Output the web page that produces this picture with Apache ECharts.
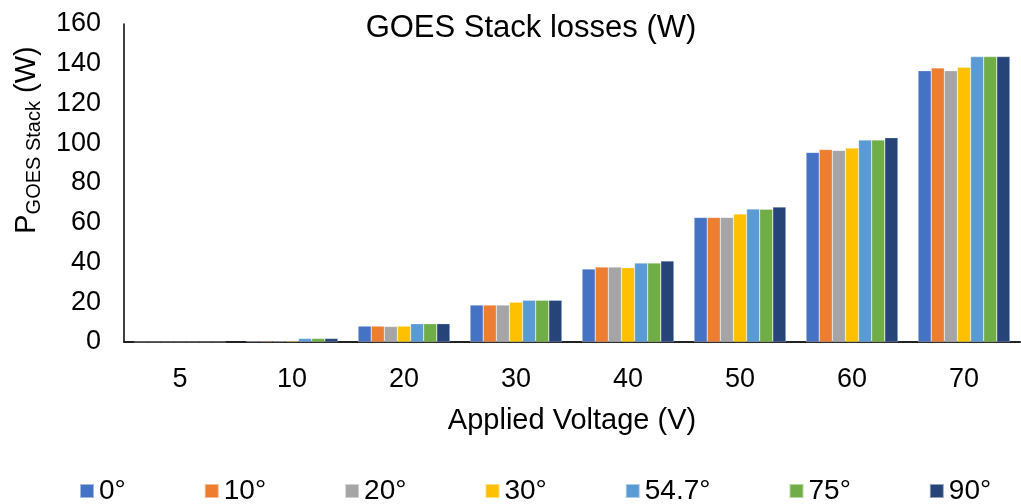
<!DOCTYPE html>
<html><head><meta charset="utf-8">
<script src="https://cdn.jsdelivr.net/npm/echarts@6/dist/echarts.min.js"></script>
<style>html,body{margin:0;padding:0;background:#fff}#c{width:1021px;height:504px}</style>
</head><body><div id="c"></div>
<script>
const categories = ['5','10','20','30','40','50','60','70'];
const seriesNames = ['0°','10°','20°','30°','54.7°','75°','90°'];
const s0   = [0.1, 0.4, 8.0, 18.6, 36.7, 62.7, 95.4, 136.5];
const s10  = [0.1, 0.4, 8.0, 18.6, 37.7, 62.7, 96.8, 137.9];
const s20  = [0.1, 0.4, 7.8, 18.6, 37.7, 62.7, 96.4, 136.5];
const s30  = [0.1, 0.5, 8.0, 20.0, 37.4, 64.4, 97.6, 138.2];
const s547 = [0.1, 1.8, 9.2, 21.0, 39.7, 66.9, 101.6, 143.6];
const s75  = [0.1, 1.8, 9.2, 21.0, 39.7, 66.8, 101.6, 143.6];
const s90  = [0.1, 1.8, 9.2, 21.0, 40.8, 67.9, 102.8, 143.6];
const yTicks = [0, 20, 40, 60, 80, 100, 120, 140, 160];
const colors = ['#4472C4','#ED7D31','#A5A5A5','#FFC000','#5B9BD5','#70AD47','#264478'];
const allData = [s0, s10, s20, s30, s547, s75, s90];

const font = 'Liberation Sans, Arial, sans-serif';
const chart = echarts.init(document.getElementById('c'));
chart.setOption({
  animation: false,
  color: colors,
  textStyle: {fontFamily: font},
  title: {
    text: 'GOES Stack losses (W)', left: 526, top: 8, textAlign: 'center',
    textStyle: {fontFamily: font, fontSize: 31, fontWeight: 'normal', color: '#000'}
  },
  grid: {left: 124, right: 1, top: 24, bottom: 162, containLabel: false},
  legend: {
    left: 74, top: 472, itemGap: 78, itemWidth: 14, itemHeight: 14, icon: 'rect',
    data: seriesNames,
    textStyle: {fontFamily: font, fontSize: 28, color: '#000'}
  },
  xAxis: {
    type: 'category', data: categories,
    axisLine: {lineStyle: {color: '#222', width: 2}},
    axisTick: {show: false},
    axisLabel: {fontFamily: font, fontSize: 27, color: '#000', margin: 24},
    name: 'Applied Voltage (V)', nameLocation: 'middle', nameGap: 64,
    nameTextStyle: {fontFamily: font, fontSize: 29, color: '#000'}
  },
  yAxis: {
    type: 'value', min: 0, max: 160, interval: 20,
    axisLine: {show: true, lineStyle: {color: '#000', width: 1.5}},
    axisTick: {show: false},
    splitLine: {show: false},
    axisLabel: {fontFamily: font, fontSize: 27, color: '#000', margin: 23,
      formatter: v => yTicks.includes(v) ? String(v) : ''}
  },
  graphic: [{
    type: 'text', x: 27, y: 140, rotation: Math.PI / 2,
    style: {
      text: '{a|P}{b|GOES Stack}{a| (W)}',
      align: 'center', verticalAlign: 'middle',
      rich: {
        a: {fontFamily: font, fontSize: 29, color: '#000', lineHeight: 34, verticalAlign: 'middle'},
        b: {fontFamily: font, fontSize: 20, color: '#000', lineHeight: 34, verticalAlign: 'bottom', padding: [14,0,0,0]}
      }
    }
  }],
  series: seriesNames.map((n, i) => ({
    name: n, type: 'bar', data: allData[i],
    barGap: '0%', barCategoryGap: '18%',
    itemStyle: {color: colors[i], borderColor: 'rgba(255,255,255,0.5)', borderWidth: 0.5}
  }))
});
</script></body></html>
